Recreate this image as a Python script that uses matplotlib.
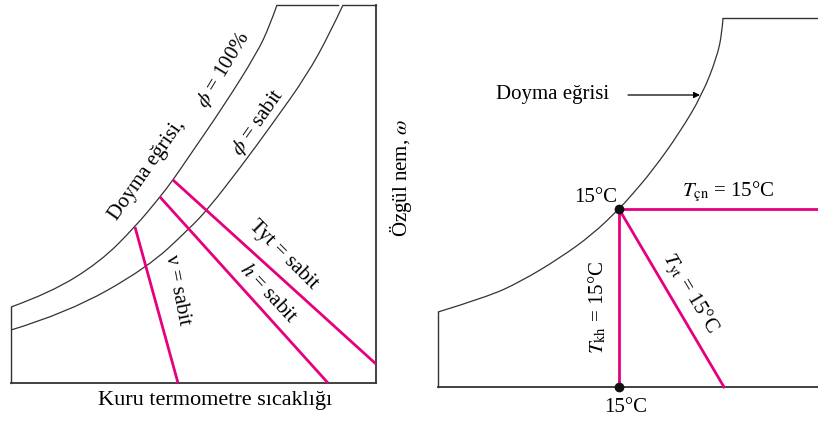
import matplotlib.pyplot as plt
from matplotlib.path import Path
from matplotlib.patches import PathPatch

plt.rcParams['font.family'] = ['Liberation Serif', 'DejaVu Serif']
plt.rcParams['mathtext.fontset'] = 'stix'

# left chart (pixel coordinates)
sat_x = [11, 50, 100, 135, 160, 173, 190, 223, 257, 270, 277]
sat_y = [307, 293, 262, 227, 197, 180, 155, 107, 53, 25, 5]
phi_x = [11, 67, 147, 190, 208, 240, 273, 307, 330, 343]
phi_y = [330, 313, 268, 228, 209, 168, 123, 75, 33, 5]

v_line = ([135, 178], [227, 383])
h_line = ([160, 328], [197, 383])
tyt_line = ([173, 376], [180, 364])

# right chart
sat2_x = [438, 487, 520, 560, 593, 619, 630, 653, 680, 702, 717, 722, 723]
sat2_y = [312, 297, 282, 258, 234, 209, 197, 170, 132, 95, 57, 33, 18]
state_x, state_y = 619, 209
base_y = 387

pink = "#e6007e"
dark = "#333333"
fs = 15


def smooth_curve(ax, xs, ys, **kw):
    # quadratic bezier pieces: read points as controls, midpoints on the curve
    pts = list(zip(xs, ys))
    verts = [pts[0]]
    codes = [Path.MOVETO]
    for i in range(1, len(pts) - 1):
        mid = ((pts[i][0] + pts[i + 1][0]) / 2, (pts[i][1] + pts[i + 1][1]) / 2)
        if i == len(pts) - 2:
            mid = pts[-1]
        verts += [pts[i], mid]
        codes += [Path.CURVE3, Path.CURVE3]
    ax.add_patch(PathPatch(Path(verts, codes), fill=False, **kw))


fig = plt.figure(figsize=(8.18, 4.23), dpi=100)
ax = fig.add_axes([0, 0, 1, 1])
ax.set_xlim(0, 818)
ax.set_ylim(423, 0)
ax.axis("off")

# ---- left chart ----
ax.plot([11, 376], [383, 383], color=dark, lw=1.3)
ax.plot([11, 11], [383, sat_y[0]], color=dark, lw=1.0)
ax.plot([376, 376], [383, 5], color=dark, lw=1.3)
ax.plot([sat_x[-1], 338], [5, 5], color=dark, lw=1.0)
ax.plot([phi_x[-1], 376], [5, 5], color=dark, lw=1.0)
smooth_curve(ax, sat_x, sat_y, edgecolor=dark, lw=0.9)
smooth_curve(ax, phi_x, phi_y, edgecolor=dark, lw=0.9)

for xs, ys in (v_line, h_line, tyt_line):
    ax.plot(xs, ys, color=pink, lw=2.0, solid_capstyle="butt")

ax.text(147, 170, "Doyma eğrisi,", fontsize=fs, rotation=55,
        ha="center", va="center", rotation_mode="anchor")
ax.text(224, 70, r"$\phi$ = 100%", fontsize=fs, rotation=59,
        ha="center", va="center", rotation_mode="anchor")
ax.text(258, 122, r"$\phi$ = sabit", fontsize=fs, rotation=55,
        ha="center", va="center", rotation_mode="anchor")
ax.text(283, 255, "Tyt = sabit", fontsize=fs, rotation=-45,
        ha="center", va="center", rotation_mode="anchor")
ax.text(268, 294, r"$h$ = sabit", fontsize=fs, rotation=-47,
        ha="center", va="center", rotation_mode="anchor")
ax.text(177, 290, "ν = sabit", fontsize=fs, rotation=-79,
        ha="center", va="center", rotation_mode="anchor")
ax.text(215, 401, "Kuru termometre sıcaklığı", fontsize=16,
        ha="center", va="center")
ax.text(401, 178, r"Özgül nem, $\omega$", fontsize=fs, rotation=90,
        ha="center", va="center", rotation_mode="anchor")

# ---- right chart ----
ax.plot([438, 818], [base_y, base_y], color=dark, lw=1.3)
ax.plot([438, 438], [base_y, sat2_y[0]], color=dark, lw=1.0)
ax.plot([sat2_x[-1], 818], [sat2_y[-1], sat2_y[-1]], color=dark, lw=1.0)
smooth_curve(ax, sat2_x, sat2_y, edgecolor=dark, lw=0.9)

ax.plot([state_x, 818], [state_y, state_y], color=pink, lw=2.0)
ax.plot([state_x, state_x], [state_y, base_y], color=pink, lw=2.0)
ax.plot([state_x, 724], [state_y, base_y], color=pink, lw=2.0)
ax.plot([state_x, state_x], [state_y, base_y], "o", color="#111111",
        ms=6, zorder=5)

ax.annotate("", xy=(700, 95), xytext=(628, 95),
            arrowprops=dict(arrowstyle="-|>", color="black", lw=0.9,
                            mutation_scale=9, shrinkA=0, shrinkB=0))
ax.text(553, 95, "Doyma eğrisi", fontsize=fs, ha="center", va="center")
ax.text(617, 197, "15°C", fontsize=fs, ha="right", va="center")
ax.text(728, 192, r"$T_{\mathrm{çn}}$ = 15°C", fontsize=fs,
        ha="center", va="center")
ax.text(597, 307, r"$T_{\mathrm{kh}}$ = 15°C", fontsize=fs, rotation=90,
        ha="center", va="center", rotation_mode="anchor")
ax.text(690, 293, r"$T_{\mathrm{yt}}$ = 15°C", fontsize=fs, rotation=-59,
        ha="center", va="center", rotation_mode="anchor")
ax.text(626, 407, "15°C", fontsize=fs, ha="center", va="center")

plt.savefig("out.png", dpi=100)
